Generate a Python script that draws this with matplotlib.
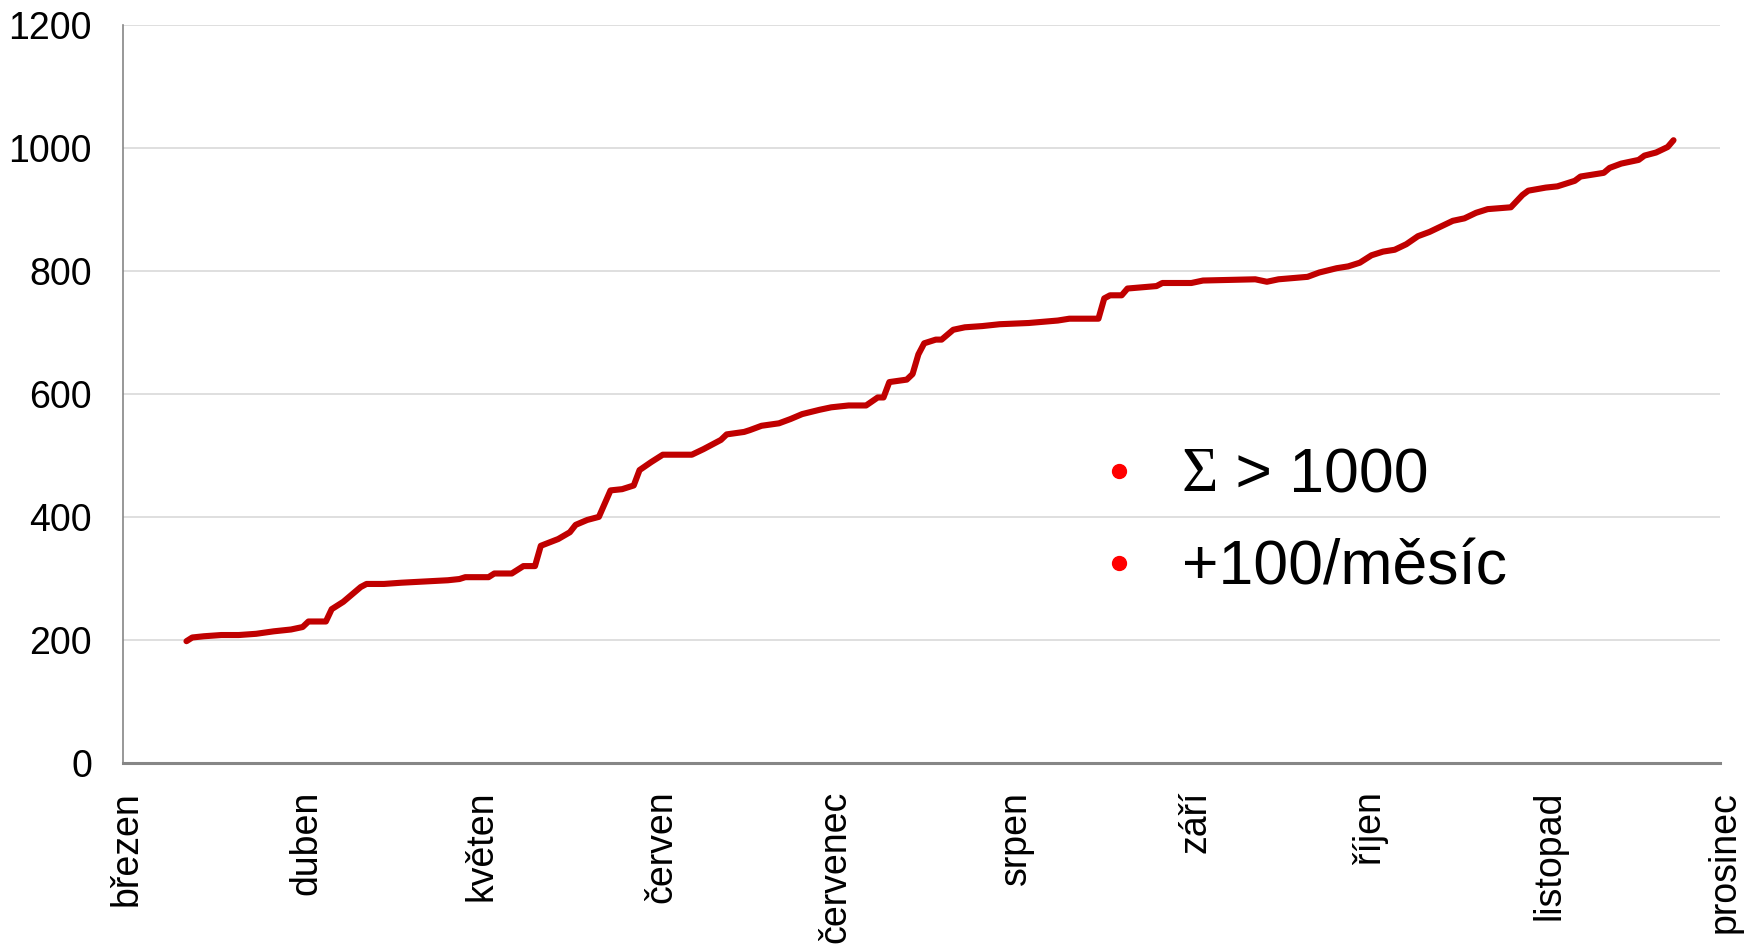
import numpy as np
import matplotlib
matplotlib.use("Agg")
import matplotlib.pyplot as plt
import matplotlib.transforms as mtransforms

# days counted from 1 March, cumulative count
start = np.datetime64("2020-03-01")
day = [11, 12, 14, 17, 20, 23, 26, 29, 31, 32, 35, 36, 38, 41, 42, 45, 48, 52,
       56, 58, 59, 63, 64, 67, 69, 71, 72, 75, 77, 78, 80, 82, 84, 86, 88, 89,
       91, 93, 98, 100, 103, 104, 107, 108, 110, 113, 115, 117, 120, 122, 125,
       128, 130, 131, 132, 135, 136, 137, 138, 140, 141, 143, 145, 148, 151,
       156, 161, 163, 168, 169, 170, 172, 173, 178, 179, 184, 186, 195, 197,
       199, 204, 206, 209, 211, 213, 215, 217, 219, 221, 223, 225, 227, 229,
       231, 233, 235, 239, 241, 242, 245, 247, 250, 251, 255, 256, 258, 261,
       262, 264, 266, 267]
count = [198, 204, 206, 208, 208, 210, 214, 217, 221, 230, 230, 250, 262, 286,
         291, 291, 293, 295, 297, 299, 302, 302, 308, 308, 320, 320, 353, 364,
         375, 387, 395, 400, 443, 445, 451, 476, 489, 501, 501, 510, 525, 534,
         538, 541, 548, 552, 559, 567, 574, 578, 581, 581, 594, 594, 619, 623,
         632, 664, 682, 688, 688, 704, 708, 710, 713, 715, 719, 722, 722, 755,
         760, 760, 771, 775, 780, 780, 784, 786, 782, 786, 790, 797, 804, 807,
         813, 825, 831, 834, 843, 856, 863, 872, 881, 885, 894, 900, 903, 923,
         930, 935, 937, 946, 953, 959, 967, 974, 980, 987, 992, 1001, 1012]

months = ["březen", "duben", "květen", "červen", "červenec", "srpen",
          "září", "říjen", "listopad", "prosinec"]
month_starts = np.arange("2020-03", "2021-01", dtype="datetime64[M]").astype("datetime64[D]")

legend_labels = ["> 1000", "+100/měsíc"]

dates = start + np.array(day)

plt.rcParams["font.family"] = ["Liberation Sans", "DejaVu Sans"]

fig = plt.figure(figsize=(17.46, 9.46), dpi=100)
ax = fig.add_axes([0.0702, 0.1934, 0.9149, 0.7807])

ax.plot(dates, count, color="#C00000", lw=4.4, solid_joinstyle="round",
        solid_capstyle="round", zorder=3)

ax.set_ylim(0, 1200)
ax.set_yticks(np.arange(0, 1201, 200))
ax.set_xlim(month_starts[0], month_starts[-1])
ax.set_xticks(month_starts)
ax.set_xticklabels(months, rotation=90, va="top", ha="center")

ax.grid(axis="y", color="#D9D9D9", lw=1.2)
ax.set_axisbelow(True)
for s in ["top", "right"]:
    ax.spines[s].set_visible(False)
ax.spines["left"].set_color("#868686")
ax.spines["left"].set_linewidth(1.2)
ax.spines["bottom"].set_color("#868686")
ax.spines["bottom"].set_linewidth(2.2)
ax.tick_params(axis="y", length=0, pad=22, labelsize=27)
ax.tick_params(axis="x", length=0, pad=20, labelsize=27)

# labels sit a little right of the month tick (after tick_params, which resets transforms)
shift = mtransforms.ScaledTranslation(3 / 72, 0, fig.dpi_scale_trans)
for tick in ax.xaxis.get_major_ticks():
    tick.label1.set_transform(tick.label1.get_transform() + shift)

# the legend-like note on the right
dot_x = 1119 / 1746
for i, (yp, lab) in enumerate(zip([471, 563], legend_labels)):
    yf = 1 - yp / 946
    ty = 1 - (yp + 5) / 946
    fig.lines.append(plt.Line2D([dot_x], [yf], transform=fig.transFigure,
                                marker="o", ms=10, color="#FF0000", ls="none"))
    if i == 0:
        t = fig.text(1182 / 1746, ty, "Σ", fontsize=45, va="center",
                     family=["Liberation Serif", "DejaVu Serif"])
        fig.canvas.draw()
        bb = t.get_window_extent()
        fig.text(bb.x1 / fig.bbox.width, ty, " " + lab, fontsize=45, va="center")
    else:
        fig.text(1182 / 1746, ty, lab, fontsize=45, va="center")

fig.savefig("out.png", dpi=100)
